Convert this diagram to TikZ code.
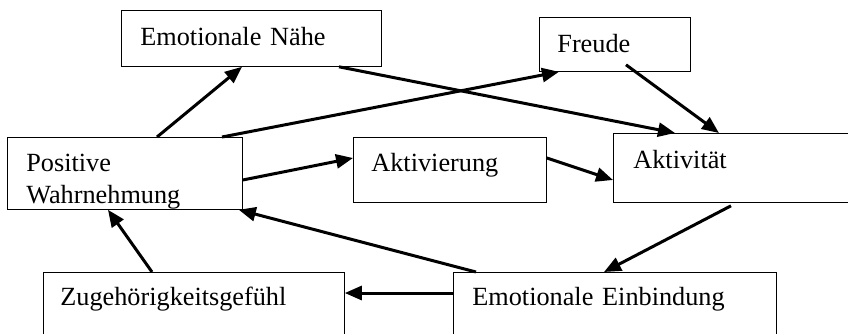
\documentclass[tikz,border=0pt]{standalone}
\usepackage{fontspec}
\setmainfont{Liberation Serif}
\usetikzlibrary{arrows.meta,calc}

\begin{document}
\begin{tikzpicture}[x=1pt,y=-1pt,->,>={Triangle[length=17pt,width=14pt]},
  line width=3pt,
  main node/.style={rectangle,draw,line width=0.8pt,anchor=north west,
    inner ysep=0pt,align=left,font=\fontsize{26.25}{32}\selectfont}]

  \useasboundingbox (0,0) rectangle (848,333);

  \node[main node,inner xsep=19pt,text width=222pt,text height=35pt,text depth=21pt] (EN) at (121,10) {Emotionale Nähe};
  \node[main node,inner xsep=18pt,text width=115pt,text height=35pt,text depth=19pt] (FR) at (539,17) {Freude};
  \node[main node,inner xsep=19pt,text width=197pt,text height=34pt,text depth=38pt] (PW) at (7,137) {Positive\\Wahrnehmung};
  \node[main node,inner xsep=18pt,text width=157pt,text height=34pt,text depth=31pt] (AK) at (353,137) {Aktivierung};
  \node[main node,inner xsep=20pt,text width=199pt,text height=35pt,text depth=34pt] (AT) at (613,133) {Aktivität};
  \node[main node,inner xsep=17pt,text width=267pt,text height=33pt,text depth=40pt] (ZG) at (43,272) {Zugehörigkeitsgefühl};
  \node[main node,inner xsep=19pt,text width=285pt,text height=33pt,text depth=40pt] (EE) at (453,272) {Emotionale Einbindung};

  \path
    ($(PW.north west)+(150,0)$) edge ($(EN.south west)+(121,0)$)
    ($(PW.north west)+(215,0)$) edge ($(FR.south west)+(20,0)$)
    ($(EN.south west)+(218,0)$) edge ($(AT.north west)+(62,0)$)
    ($(FR.south west)+(87,-7)$) edge ($(AT.north west)+(106,0)$)
    ($(PW.north east)+(0,43)$) edge ($(AK.north west)+(0,21)$)
    ($(AK.north east)+(0,21)$) edge ($(AT.north west)+(0,47)$)
    ($(AT.south west)+(118,3)$) edge ($(EE.north west)+(151,0)$)
    ($(EE.north west)+(23,0)$) edge ($(PW.south east)+(-4,0)$)
    ($(EE.north west)+(0,21)$) edge ($(ZG.north east)+(0,21)$)
    ($(ZG.north west)+(109,0)$) edge ($(PW.south west)+(101,0)$)
    ;
\end{tikzpicture}
\end{document}
